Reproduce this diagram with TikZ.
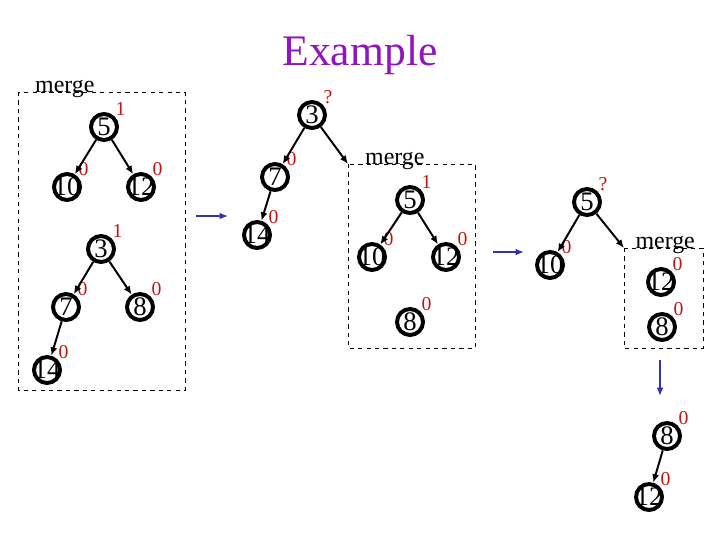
\documentclass[tikz,border=0pt]{standalone}
\usepackage{fontspec}
\setmainfont{Liberation Serif}
\usetikzlibrary{arrows.meta}
\definecolor{titlepurple}{RGB}{145,20,190}
\definecolor{rankred}{RGB}{190,20,20}
\definecolor{stepblue}{RGB}{50,50,170}
% Zahl ohne Breite, damit alle Kreise gleich gross bleiben
\newcommand{\kv}[1]{\makebox[0pt]{#1}}

\begin{document}
\begin{tikzpicture}[
  x=0.025cm, y=-0.025cm,
  every node/.style={inner sep=0pt},
  tnode/.style={circle, draw=black, line width=2.8pt, minimum size=0.65cm, font=\fontsize{19}{19}\selectfont},
  rk/.style={text=rankred, font=\fontsize{14}{14}\selectfont, inner sep=0.5pt},
  edge/.style={line width=1.4pt, -{Latex[length=6pt,width=5pt]}},
  moveto/.style={draw=stepblue, line width=1.4pt, -{Latex[length=6pt,width=5pt]}},
  mbox/.style={dashed, line width=0.7pt},
  mlabel/.style={anchor=base west, font=\fontsize{17}{17}\selectfont}
]
  \useasboundingbox (0,0) rectangle (720,540);

  % Titel
  \node[text=titlepurple, font=\fontsize{31}{31}\selectfont] (ttl) at (360,55) {Example};

  % Schritt 1: zwei Heaps im merge-Kasten
  \coordinate (b1a) at (18,92);
  \coordinate (b1b) at (185,390);
  \draw[mbox] (b1a) rectangle (b1b);
  \node[mlabel] (m1) at ([xshift=12]b1a) {merge};

  \node[tnode, label={[rk]45:1}] (a5) at (104,127) {\kv{5}};
  \node[tnode, label={[rk]45:0}] (a10) at (67,187) {\kv{10}};
  \node[tnode, label={[rk]45:0}] (a12) at (141,187) {\kv{12}};
  \node[tnode, label={[rk]45:1}] (a3) at (101,249) {\kv{3}};
  \node[tnode, label={[rk]45:0}] (a7) at (66,307) {\kv{7}};
  \node[tnode, label={[rk]45:0}] (a8) at (140,307) {\kv{8}};
  \node[tnode, label={[rk]45:0}] (a14) at (47,370) {\kv{14}};

  \draw[edge] (a5) -- (a10);
  \draw[edge] (a5) -- (a12);
  \draw[edge] (a3) -- (a7);
  \draw[edge] (a3) -- (a8);
  \draw[edge] (a7) -- (a14);

  \coordinate (s1a) at (196,216);
  \coordinate (s1b) at (228,216);
  \draw[moveto] (s1a) -- (s1b);

  % Schritt 2
  \node[tnode, label={[rk]45:?}] (b3) at (312,115) {\kv{3}};
  \node[tnode, label={[rk]45:0}] (b7) at (275,177) {\kv{7}};
  \node[tnode, label={[rk]45:0}] (b14) at (257,235) {\kv{14}};

  \coordinate (b2a) at (348,164);
  \coordinate (b2b) at (475,348);
  \draw[mbox] (b2a) rectangle (b2b);
  \node[mlabel] (m2) at ([xshift=12]b2a) {merge};

  \node[tnode, label={[rk]45:1}] (b5) at (410,200) {\kv{5}};
  \node[tnode, label={[rk]45:0}] (b10) at (372,257) {\kv{10}};
  \node[tnode, label={[rk]45:0}] (b12) at (446,257) {\kv{12}};
  \node[tnode, label={[rk]45:0}] (b8) at (410,322) {\kv{8}};

  \draw[edge] (b3) -- (b7);
  \draw[edge] (b7) -- (b14);
  \draw[edge] (b3) -- (b2a);
  \draw[edge] (b5) -- (b10);
  \draw[edge] (b5) -- (b12);

  \coordinate (s2a) at (493,252);
  \coordinate (s2b) at (524,252);
  \draw[moveto] (s2a) -- (s2b);

  % Schritt 3
  \node[tnode, label={[rk]45:?}] (c5) at (587,202) {\kv{5}};
  \node[tnode, label={[rk]45:0}] (c10) at (550,265) {\kv{10}};

  \coordinate (b3a) at (624,248);
  \coordinate (b3b) at (703,348);
  \draw[mbox] (b3a) rectangle (b3b);
  \node[mlabel] (m3) at ([xshift=8]b3a) {merge};

  \node[tnode, label={[rk]45:0}] (c12) at (661,282) {\kv{12}};
  \node[tnode, label={[rk]45:0}] (c8) at (662,327) {\kv{8}};

  \draw[edge] (c5) -- (c10);
  \draw[edge] (c5) -- (b3a);

  \coordinate (s3a) at (660,360);
  \coordinate (s3b) at (660,396);
  \draw[moveto] (s3a) -- (s3b);

  % Ergebnis
  \node[tnode, label={[rk]45:0}] (d8) at (667,436) {\kv{8}};
  \node[tnode, label={[rk]45:0}] (d12) at (649,497) {\kv{12}};
  \draw[edge] (d8) -- (d12);
\end{tikzpicture}
\end{document}
